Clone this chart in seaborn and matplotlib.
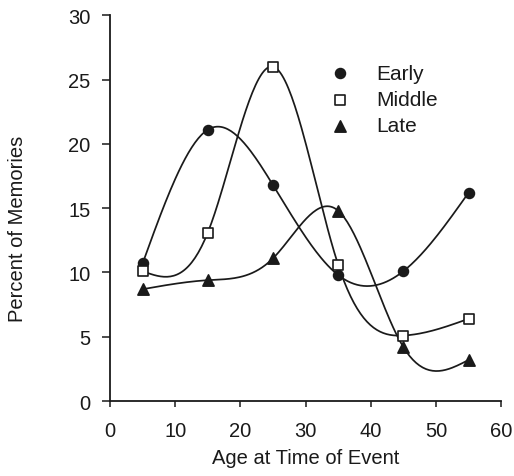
import numpy as np
import pandas as pd
import matplotlib
matplotlib.use("Agg")
import matplotlib.pyplot as plt
import seaborn as sns

ages = [5, 15, 25, 35, 45, 55]
early = [10.7, 21.1, 16.8, 9.8, 10.1, 16.2]
middle = [10.1, 13.1, 26.0, 10.6, 5.1, 6.4]
late = [8.7, 9.4, 11.1, 14.8, 4.2, 3.2]
series_names = ["Early", "Middle", "Late"]
x_ticks = [0, 10, 20, 30, 40, 50, 60]
y_ticks = [0, 5, 10, 15, 20, 25, 30]


def natural_spline(x, y, n=200):
    x = np.asarray(x, float); y = np.asarray(y, float)
    k = len(x); h = np.diff(x)
    A = np.zeros((k, k)); b = np.zeros(k)
    A[0, 0] = A[-1, -1] = 1
    for i in range(1, k - 1):
        A[i, i - 1] = h[i - 1]; A[i, i] = 2 * (h[i - 1] + h[i]); A[i, i + 1] = h[i]
        b[i] = 3 * ((y[i + 1] - y[i]) / h[i] - (y[i] - y[i - 1]) / h[i - 1])
    c = np.linalg.solve(A, b)
    xs = np.linspace(x[0], x[-1], n); ys = np.empty(n)
    for j, xv in enumerate(xs):
        i = min(np.searchsorted(x, xv, side="right") - 1, k - 2)
        dx = xv - x[i]
        bi = (y[i + 1] - y[i]) / h[i] - h[i] * (2 * c[i] + c[i + 1]) / 3
        di = (c[i + 1] - c[i]) / (3 * h[i])
        ys[j] = y[i] + bi * dx + c[i] * dx ** 2 + di * dx ** 3
    return xs, ys

sns.set_theme(style="ticks")
plt.rcParams["font.family"] = ["Liberation Sans", "DejaVu Sans"]

fig = plt.figure(figsize=(5.14, 4.77), dpi=100)
ax = fig.add_axes([0.214, 0.157, 0.761, 0.809])

points = pd.DataFrame({
    "age": ages * 3,
    "pct": early + middle + late,
    "group": sum([[n] * len(ages) for n in series_names], []),
})
curves = []
for name, vals in zip(series_names, [early, middle, late]):
    xs, ys = natural_spline(ages, vals)
    curves.append(pd.DataFrame({"age": xs, "pct": ys, "group": name}))
curves = pd.concat(curves)

ink = "#1a1a1a"
sns.lineplot(data=curves, x="age", y="pct", units="group", estimator=None,
             color=ink, linewidth=1.25, ax=ax, legend=False)
markers = {"Early": "o", "Middle": "s", "Late": "^"}
face = {"Early": ink, "Middle": "white", "Late": ink}
sizes = {"Early": 50, "Middle": 48, "Late": 65}
for name in series_names:
    sub = points[points["group"] == name]
    sns.scatterplot(data=sub, x="age", y="pct", marker=markers[name],
                    color=face[name], edgecolor=ink, linewidth=1.2,
                    s=sizes[name], ax=ax, label=name, zorder=5)

leg = ax.legend(loc="upper left", bbox_to_anchor=(0.562, 0.874), frameon=False,
                fontsize=15, handlelength=1.0, handletextpad=1.25,
                labelspacing=0.35, borderaxespad=0, borderpad=0)
for t in leg.get_texts():
    t.set_color(ink)

ax.set_xlim(0, 60); ax.set_ylim(0, 30)
ax.set_xticks(x_ticks); ax.set_yticks(y_ticks)
ax.tick_params(labelsize=14.5, width=1.1, color=ink, labelcolor=ink)
ax.tick_params(axis="x", length=4, pad=10)
ax.tick_params(axis="y", length=6, pad=8)
ax.set_xlabel("Age at Time of Event", fontsize=14.5, color=ink, labelpad=6)
ax.set_ylabel("Percent of Memories", fontsize=14.5, color=ink)
ax.yaxis.set_label_coords(-0.212, 0.45)
sns.despine(ax=ax)
for s in ["left", "bottom"]:
    ax.spines[s].set_linewidth(1.3); ax.spines[s].set_color(ink)

fig.savefig("out.png", dpi=100, facecolor="white")
